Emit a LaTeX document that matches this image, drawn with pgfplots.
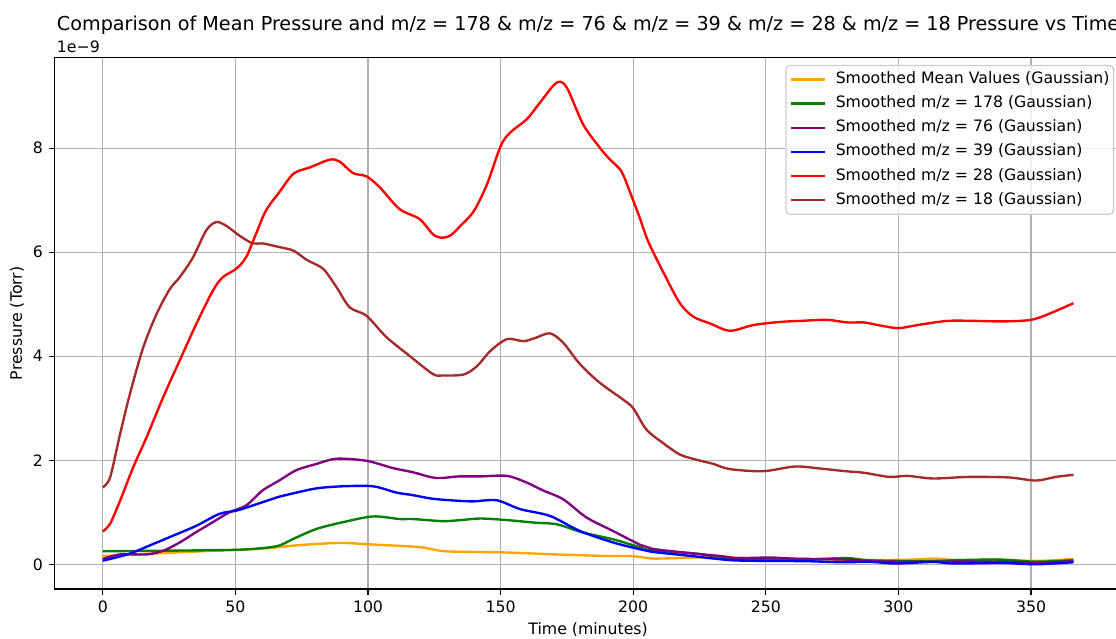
\documentclass[border=0pt]{standalone}
\usepackage{fontspec}
\setmainfont{DejaVu Sans}
\usepackage{pgfplots}
\pgfplotsset{compat=1.18}
\definecolor{mplorange}{HTML}{FFA500}
\definecolor{mplgreen}{HTML}{008000}
\definecolor{mplpurple}{HTML}{800080}
\definecolor{mplblue}{HTML}{0000FF}
\definecolor{mplred}{HTML}{FF0000}
\definecolor{mplbrown}{HTML}{A52A2A}
\definecolor{gridgray}{HTML}{B0B0B0}
\definecolor{legframe}{HTML}{CCCCCC}
\begin{document}
\begin{tikzpicture}
\begin{axis}[
  at={(0,0)}, anchor=south west,
  scale only axis,
  width=676.9bp, height=336.8bp,
  xmin=-18.3, xmax=384.3, ymin=-0.475, ymax=9.74,
  xtick={0,50,...,350}, ytick={0,2,4,6,8},
  xtick pos=bottom, ytick pos=left,
  grid=major, major grid style={gridgray, line width=0.8bp},
  axis line style={line width=0.8bp},
  tick style={black, line width=0.8bp},
  tick align=outside, major tick length=3.5bp,
  tick label style={font=\fontsize{10}{12}\selectfont},
  xticklabel style={inner sep=0pt, anchor=north, yshift=-3.5bp},
  yticklabel style={inner sep=0pt, anchor=east, xshift=-3.5bp},
  /pgf/number format/assume math mode=true,
  every axis plot/.append style={line width=1.5bp, line join=round, smooth, tension=0.5},
  legend cell align=left,
  legend image code/.code={\draw[#1, line width=1.5bp] (0bp,0bp) -- (21.6bp,0bp);},
  legend style={at={(1,1)}, anchor=north east, xshift=-5bp, yshift=-4.5bp,
    draw=legframe, line width=0.8bp, rounded corners=2.5bp, fill=white,
    fill opacity=0.8, text opacity=1, font=\fontsize{10}{12}\selectfont,
    inner xsep=2.5bp, inner ysep=4bp, row sep=5.5bp, column sep=6bp,
    nodes={inner sep=0pt, text height=7.5bp, text depth=2.3bp}},
]
% Smoothed Mean Values
\addplot[mplorange] coordinates {
(0,0.16) (16.5,0.2) (41.5,0.26) (60,0.3) (74.4,0.37) (89.4,0.41) (101.9,0.38)
(119.4,0.33) (129.4,0.25) (150,0.23) (171,0.19) (190,0.16) (200,0.155) (208,0.11)
(223,0.13) (236,0.13) (250,0.11) (264,0.10) (277.5,0.09) (290,0.08) (304.8,0.09)
(314,0.11) (322,0.08) (338,0.09) (352,0.065) (366,0.1)};
\addlegendentry{Smoothed Mean Values (Gaussian)}
% m/z 178
\addplot[mplgreen] coordinates {
(0,0.25) (20,0.26) (40,0.27) (51.5,0.28) (60,0.31) (66.5,0.36) (71.9,0.49) (80.6,0.68)
(90.6,0.81) (101.9,0.92) (111.9,0.87) (116.9,0.87) (128.1,0.83) (135,0.85) (142.4,0.88)
(152.4,0.85) (163,0.8) (171.1,0.77) (181.1,0.61) (192.4,0.48) (202.4,0.33) (206.5,0.27)
(223,0.21) (236.6,0.11) (250,0.10) (264,0.09) (280,0.12) (288,0.08) (299,0.065)
(315,0.065) (322,0.08) (338,0.09) (352,0.05) (366,0.08)};
\addlegendentry{Smoothed m/z = 178 (Gaussian)}
% m/z 76
\addplot[mplpurple] coordinates {
(0,0.1) (6.5,0.19) (16.5,0.19) (22.75,0.26) (29,0.42) (35.25,0.62) (41.5,0.81)
(47.75,1.0) (54,1.13) (60.25,1.42) (66.5,1.61) (73,1.81) (80.6,1.93) (88.1,2.03)
(99.4,1.99) (109.4,1.85) (116.9,1.77) (125.6,1.66) (134.4,1.69) (142.4,1.69)
(152.4,1.70) (159.9,1.57) (166,1.42) (173.6,1.25) (182.4,0.9) (192.4,0.64)
(202.4,0.38) (207,0.30) (220,0.22) (232.7,0.16) (239,0.12) (251.6,0.13) (260,0.11)
(270,0.10) (280,0.09) (290,0.06) (300,0.05) (315,0.05) (330,0.05) (345,0.04)
(352,0.03) (366,0.06)};
\addlegendentry{Smoothed m/z = 76 (Gaussian)}
% m/z 39
\addplot[mplblue] coordinates {
(0,0.07) (6.5,0.15) (11.5,0.23) (19,0.39) (26.5,0.55) (35.25,0.74) (44,0.97)
(50.25,1.03) (56.5,1.13) (66.5,1.3) (70.6,1.35) (80.6,1.46) (90.6,1.5) (101.9,1.5)
(110.6,1.38) (116.9,1.33) (124.4,1.26) (134.4,1.22) (139.9,1.21) (148.6,1.23)
(157.4,1.06) (168.6,0.93) (179.9,0.64) (192.4,0.42) (202.4,0.29) (207,0.24)
(220,0.17) (236.6,0.08) (250,0.065) (265,0.06) (278,0.04) (290,0.045) (299,0.015)
(313,0.045) (321,0.015) (339,0.026) (352,0.0) (366,0.04)};
\addlegendentry{Smoothed m/z = 39 (Gaussian)}
% m/z 28
\addplot[mplred] coordinates {
(0,0.63) (2.75,0.78) (6.5,1.22) (11.5,1.87) (16.5,2.44) (22.75,3.21) (29,3.92)
(35.25,4.62) (41.5,5.26) (45.25,5.52) (50.25,5.68) (54,5.9) (57.75,6.35) (61.5,6.8)
(66.5,7.15) (71.9,7.51) (78,7.63) (85.6,7.78) (89.4,7.74) (94.4,7.52) (99.4,7.46)
(104.4,7.25) (111.9,6.83) (119.4,6.64) (124.4,6.35) (127.5,6.28) (131,6.32)
(134.9,6.51) (139.9,6.79) (144.9,7.31) (150,8.04) (153.6,8.3) (159.9,8.56)
(164.9,8.88) (171.1,9.26) (174.9,9.17) (181.1,8.46) (187.4,8.01) (191.1,7.79)
(195.5,7.56) (198.6,7.18) (202.4,6.67) (205.7,6.2) (211.3,5.62) (217.6,5.02)
(222.7,4.76) (229,4.63) (236.5,4.49) (245.3,4.6) (255.4,4.66) (263,4.68) (273,4.7)
(280.8,4.65) (287,4.65) (293.3,4.59) (300,4.54) (307.2,4.6) (318.5,4.68)
(328.5,4.68) (340,4.67) (350,4.7) (357,4.82) (366,5.02)};
\addlegendentry{Smoothed m/z = 28 (Gaussian)}
% m/z 18
\addplot[mplbrown] coordinates {
(0,1.48) (2.75,1.67) (6.5,2.5) (10.25,3.28) (15.25,4.17) (20.25,4.81) (25.25,5.29)
(29,5.52) (34,5.9) (39,6.42) (42.75,6.58) (46.5,6.51) (51.5,6.32) (56.5,6.17)
(60.25,6.17) (66.5,6.1) (71.9,6.03) (77,5.85) (83.1,5.68) (88.1,5.33) (93.1,4.94)
(99.4,4.78) (106.9,4.37) (115.6,4.01) (124.4,3.66) (128.1,3.63) (136.1,3.65)
(141.1,3.81) (146.1,4.1) (152.4,4.33) (158.6,4.29) (163,4.35) (168.6,4.44)
(173.6,4.26) (179.9,3.85) (187.4,3.49) (196.1,3.17) (200,3.0) (205,2.59)
(211.3,2.33) (217.6,2.11) (223.9,2.01) (230.2,1.93) (236.5,1.83) (249,1.79)
(261,1.88) (270.7,1.84) (280,1.79) (287,1.76) (296.6,1.68) (303.4,1.70) (313,1.65)
(326.6,1.68) (341.6,1.67) (351.8,1.61) (359.3,1.68) (366,1.72)};
\addlegendentry{Smoothed m/z = 18 (Gaussian)}
\end{axis}
\node[anchor=base, inner sep=0pt, font=\fontsize{12.2}{14}\selectfont] at (338.45bp,353.8bp)
  {Comparison of Mean Pressure and m/z = 178 \& m/z = 76 \& m/z = 39 \& m/z = 28 \& m/z = 18 Pressure vs Time};
\node[anchor=base west, inner sep=0pt, font=\fontsize{10}{12}\selectfont] at (1.5bp,340bp) {1e−9};
\node[anchor=base, inner sep=0pt, font=\fontsize{10}{12}\selectfont] at (338.45bp,-29bp) {Time (minutes)};
\node[rotate=90, anchor=center, inner sep=0pt, font=\fontsize{10}{12}\selectfont] at (-23.7bp,168.4bp) {Pressure (Torr)};
\pgfresetboundingbox
\useasboundingbox (-34.4bp,-31.7bp) rectangle (673.1bp,373.4bp);
\end{tikzpicture}
\end{document}
